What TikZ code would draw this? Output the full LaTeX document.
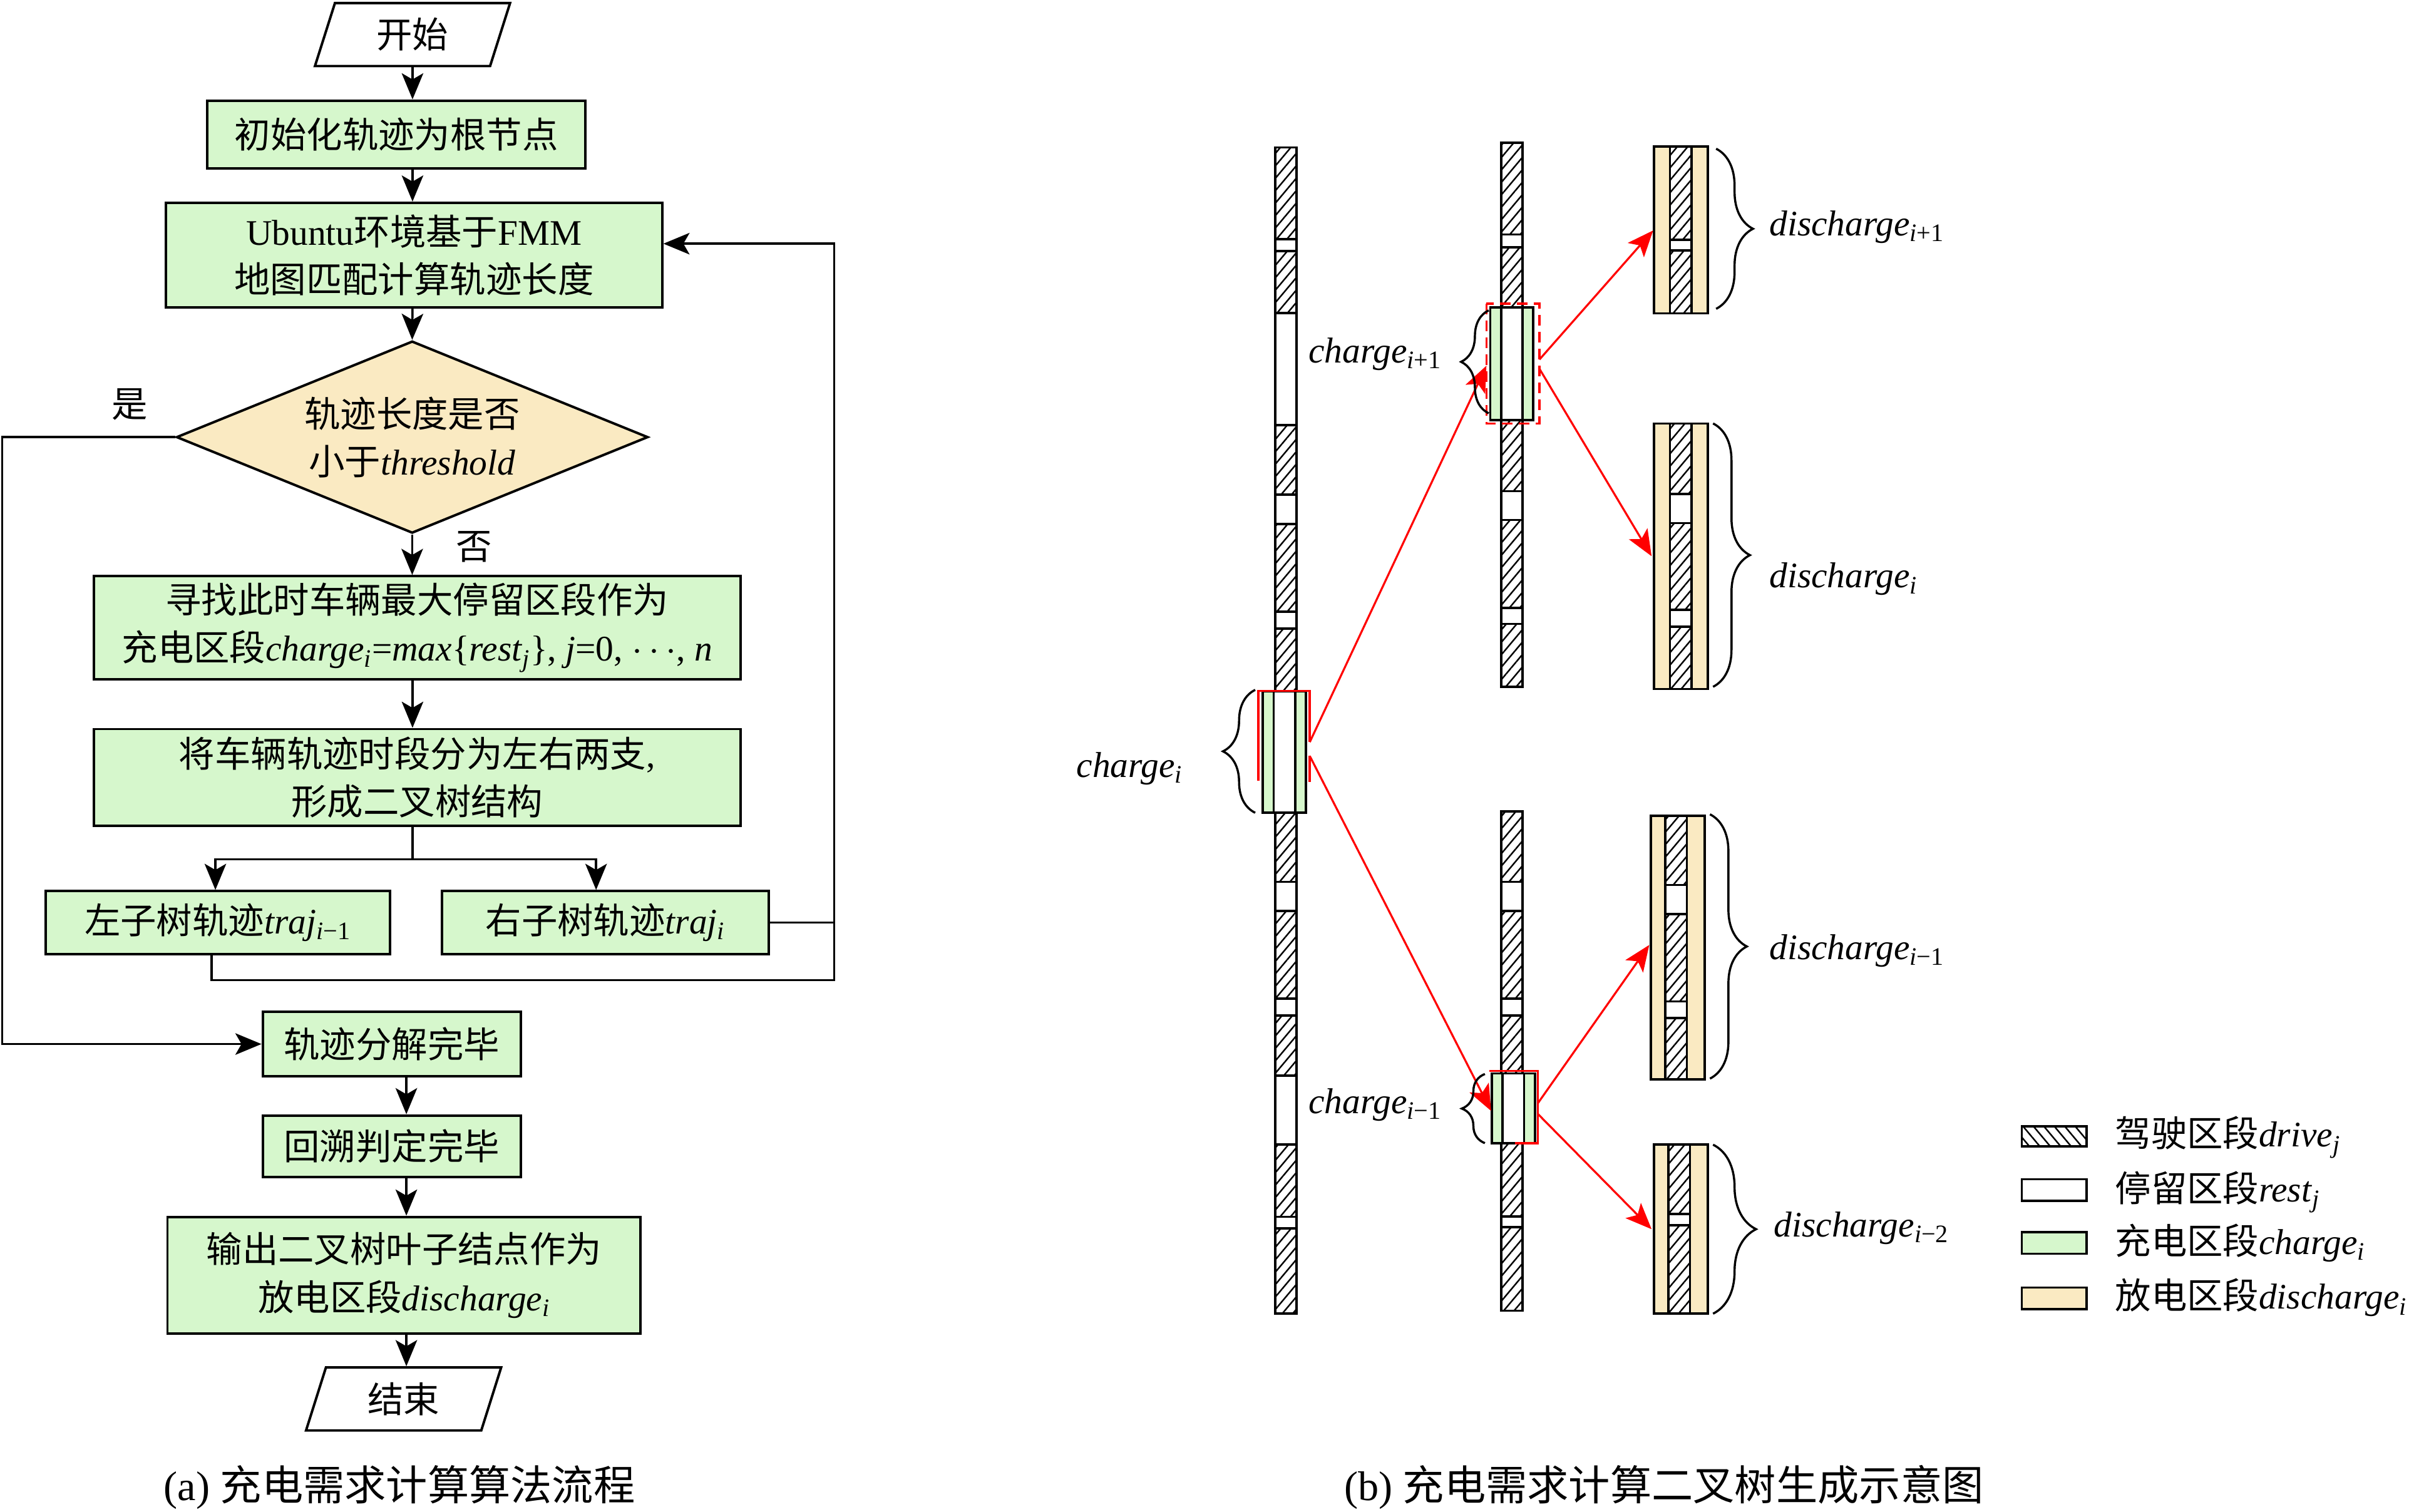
\documentclass[tikz,border=0pt]{standalone}
\usepackage{fontspec}
\setmainfont{Liberation Serif}
\newfontfamily\cjk{Noto Sans CJK SC}
\usetikzlibrary{arrows.meta,shapes.geometric,patterns.meta,decorations.pathreplacing}

\definecolor{gruen}{RGB}{214,247,204}
\definecolor{gelb}{RGB}{250,234,194}

\def\zh#1{{\cjk #1}}
\def\sx#1#2{\textit{#1}\textsubscript{#2}}
\def\fs{\fontsize{23.4}{31}\selectfont}

% Abschnitte einer Spur
\def\w{7}
\def\fahrt#1#2#3{\draw[drivebox] ({#1-\w},#2) rectangle ({#1+\w},#3);}
\def\halt#1#2#3{\draw[restbox] ({#1-\w},#2) rectangle ({#1+\w},#3);}
\def\laden#1#2#3{\draw[chargebox] ({#1-14},#2) rectangle ({#1+14},#3); \halt{#1}{#2}{#3}}
\def\entladen#1#2#3{\draw[dischbox] ({#1-17.5},#2) rectangle ({#1+17.5},#3);}

\tikzset{
	box/.style={draw,line width=1.6pt,fill=gruen,inner sep=0pt,align=center,font=\fs},
	io/.style={trapezium,trapezium left angle=59,trapezium right angle=121,
		trapezium stretches body,draw,line width=1.6pt,fill=white,
		minimum height=41,minimum width=127,inner sep=0pt,font=\fs},
	cond/.style={diamond,draw,line width=1.6pt,fill=gelb,aspect=2.45,
		minimum width=307,minimum height=125,inner sep=0pt,align=center,font=\fs},
	drivebox/.style={draw,line width=1.5pt,preaction={fill=white},
		pattern={Lines[angle=50,distance=5.2pt,line width=1pt]}},
	legdrive/.style={draw,line width=1.5pt,preaction={fill=white},
		pattern={Lines[angle=-50,distance=5.2pt,line width=1pt]}},
	restbox/.style={draw,line width=1.5pt,fill=white},
	chargebox/.style={draw,line width=1.5pt,fill=gruen},
	dischbox/.style={draw,line width=1.5pt,fill=gelb},
	brc/.style={decorate,decoration={brace,amplitude=#1},line width=1.4pt},
	pfeil/.style={-{Stealth[length=17pt,width=14pt,inset=4pt]}},
	rot/.style={red,line width=1.3pt,-{Stealth[length=17pt,width=14pt,inset=4pt]}},
	lbl/.style={anchor=base west,font=\fs,inner sep=0pt},
}

\begin{document}
\begin{tikzpicture}[x=1pt,y=-1pt,line width=1.4pt]
\useasboundingbox (0,0) rectangle (1568,984);

% Ablauf
\node[io] (start) at (268.5,22.5) {\zh{开始}};
\node[box,minimum width=246,minimum height=44] (init) at (258,87.5) {\zh{初始化轨迹为根节点}};
\node[box,minimum width=323,minimum height=68] (fmm) at (269.5,166) {Ubuntu\zh{环境基于}FMM\\\zh{地图匹配计算轨迹长度}};
\node[cond] (cond) at (268.3,284.5) {\zh{轨迹长度是否}\\\zh{小于}\textit{threshold}};
\node[box,minimum width=421,minimum height=67] (findc) at (271.5,408.5)
	{\zh{寻找此时车辆最大停留区段作为}\\\zh{充电区段}\sx{charge}{\textit{i}}=\textit{max}\{\sx{rest}{\textit{j}}\}, \textit{j}=0, $\cdots$, \textit{n}};
\node[box,minimum width=421,minimum height=63] (split) at (271.5,506) {\zh{将车辆轨迹时段分为左右两支},\\\zh{形成二叉树结构}};
\node[box,minimum width=224,minimum height=41] (ltree) at (141.7,600.5) {\zh{左子树轨迹}\sx{traj}{\textit{i}−1}};
\node[box,minimum width=213,minimum height=41] (rtree) at (394,600.5) {\zh{右子树轨迹}\sx{traj}{\textit{i}}};
\node[box,minimum width=168,minimum height=42] (done) at (255,679.5) {\zh{轨迹分解完毕}};
\node[box,minimum width=168,minimum height=40] (back) at (255,746) {\zh{回溯判定完毕}};
\node[box,minimum width=308,minimum height=76] (out) at (263,830) {\zh{输出二叉树叶子结点作为}\\\zh{放电区段}\sx{discharge}{\textit{i}}};
\node[io] (stop) at (262.7,910.5) {\zh{结束}};

\node[font=\fs,inner sep=0pt,anchor=west] (ja) at (72,263) {\zh{是}};
\node[font=\fs,inner sep=0pt,anchor=west] (nein) at (296,356) {\zh{否}};

\coordinate (ax) at (268.5,0);
\coordinate (bx) at (264.5,0);
\coordinate (yes) at (1.5,0);
\coordinate (rback) at (543,158.6);
\coordinate (lback) at (543,638);

\draw[pfeil] (start.south) -- (start.south |- init.north);
\draw[pfeil] (init.south -| ax) -- (fmm.north -| ax);
\draw[pfeil] (fmm.south -| ax) -- (cond.north);
\draw[pfeil] (cond.south) -- (cond.south |- findc.north);
\draw[pfeil] (findc.south -| ax) -- (split.north -| ax);
\draw (split.south -| ax) -- ++(0,21) coordinate (fork);
\draw[pfeil] (fork) -| ([xshift=-1.5pt]ltree.north);
\draw[pfeil] (fork) -| ([xshift=-6pt]rtree.north);
\draw[pfeil] (rtree.east) -| (rback) -- (rback -| fmm.east);
\draw ([xshift=-4pt]ltree.south) |- (lback) -- (lback |- rtree.east);
\draw[pfeil] (cond.west) -- (cond.west -| yes) |- (done.west);
\draw[pfeil] (done.south -| bx) -- (back.north -| bx);
\draw[pfeil] (back.south -| bx) -- (out.north -| bx);
\draw[pfeil] (out.south -| bx) -- (stop.north -| bx);

\node[font=\fontsize{27}{30}\selectfont] (capa) at (260,968) {(a) \zh{充电需求计算算法流程}};

% Spur 1
\fahrt{837}{96}{155.7}
\halt{837}{155.7}{163.5}
\fahrt{837}{163.5}{203.8}
\halt{837}{203.8}{276.6}
\fahrt{837}{276.6}{322}
\halt{837}{322}{341}
\fahrt{837}{341}{398}
\halt{837}{398}{409}
\fahrt{837}{409}{450}
\laden{836}{450}{529}
\fahrt{837}{529}{574}
\halt{837}{574}{593}
\fahrt{837}{593}{650}
\halt{837}{650}{661}
\fahrt{837}{661}{700}
\halt{837}{700}{745}
\fahrt{837}{745}{792}
\halt{837}{792}{799.5}
\fahrt{837}{799.5}{855}

% Spur 2 oben
\fahrt{984}{93}{152.6}
\halt{984}{152.6}{161}
\fahrt{984}{161}{200}
\laden{984}{200}{273.5}
\fahrt{984}{273.5}{319.7}
\halt{984}{319.7}{338.4}
\fahrt{984}{338.4}{395.6}
\halt{984}{395.6}{406}
\fahrt{984}{406}{447}

% Spur 2 unten
\fahrt{984}{528}{574}
\halt{984}{574}{593}
\fahrt{984}{593}{650}
\halt{984}{650}{661}
\fahrt{984}{661}{698.6}
\laden{985}{698.6}{744}
\fahrt{984}{744}{791.6}
\halt{984}{791.6}{798.7}
\fahrt{984}{798.7}{853}

% Blaetter
\entladen{1094}{95.4}{204}
\fahrt{1094}{95.4}{156}
\halt{1094}{156}{163}
\fahrt{1094}{163}{204}

\entladen{1094}{275.6}{448.4}
\fahrt{1094}{275.6}{321.6}
\halt{1094}{321.6}{340.5}
\fahrt{1094}{340.5}{397}
\halt{1094}{397}{408}
\fahrt{1094}{408}{448.4}

\entladen{1092}{531}{702.5}
\fahrt{1091}{531}{576}
\halt{1091}{576}{595}
\fahrt{1091}{595}{651.8}
\halt{1091}{651.8}{662.7}
\fahrt{1091}{662.7}{702.5}

\entladen{1094}{745}{855}
\fahrt{1093}{745}{790}
\halt{1093}{790}{797.5}
\fahrt{1093}{797.5}{855}

% Markierungen
\draw[red,line width=1.5pt] (819,508) -- (819,449.6) -- (852.5,449.6) -- (852.5,483);
\draw[red,line width=1.5pt] (852.5,492) -- (852.5,509);
\draw[red,line width=1.5pt,dash pattern=on 7pt off 4pt] (967.5,197.7) rectangle (1002,275.6);
\draw[red,line width=1.5pt] (969.5,697) -- (1001,697) -- (1001,744) -- (986,744);

\coordinate (c0a) at (852.5,483);
\coordinate (c0b) at (852.5,492);
\coordinate (c1) at (967.5,238);
\coordinate (c2) at (970.5,723);
\coordinate (c1a) at (1002,234);
\coordinate (c1b) at (1002,240);
\coordinate (c2a) at (1001,718);
\coordinate (c2b) at (1001,725);
\coordinate (d1) at (1076,150);
\coordinate (d2) at (1075,362);
\coordinate (d3) at (1073.5,615);
\coordinate (d4) at (1075,800);

\draw[rot] (c0a) -- (c1);
\draw[rot] (c0b) -- (c2);
\draw[rot] (c1a) -- (d1);
\draw[rot] (c1b) -- (d2);
\draw[rot] (c2a) -- (d3);
\draw[rot] (c2b) -- (d4);

% Klammern
\draw[brc=21pt] (817,529) -- (817,449);
\draw[brc=18pt] (969,269) -- (969,202);
\draw[brc=15pt] (966.5,744) -- (966.5,699);
\draw[brc=24pt] (1117,96.8) -- (1117,201);
\draw[brc=24pt] (1115,275.6) -- (1115,447);
\draw[brc=24pt] (1113,530) -- (1113,702);
\draw[brc=28pt] (1115,745) -- (1115,855);

\node[lbl] (lc0) at (700,506) {\sx{charge}{\textit{i}}};
\node[lbl] (lc1) at (851,236) {\sx{charge}{\textit{i}+1}};
\node[lbl] (lc2) at (851,724.6) {\sx{charge}{\textit{i}−1}};
\node[lbl] (ld1) at (1151,153.5) {\sx{discharge}{\textit{i}+1}};
\node[lbl] (ld2) at (1151,382.6) {\sx{discharge}{\textit{i}}};
\node[lbl] (ld3) at (1151,624.5) {\sx{discharge}{\textit{i}−1}};
\node[lbl] (ld4) at (1154,805) {\sx{discharge}{\textit{i}−2}};

% Legende
\draw[legdrive] (1316,733) rectangle (1358,746);
\draw[restbox] (1316,767.5) rectangle (1358,781.5);
\draw[chargebox] (1316,802) rectangle (1358,816);
\draw[dischbox] (1316,838) rectangle (1358,852);
\node[lbl] (leg1) at (1376,746.5) {\zh{驾驶区段}\sx{drive}{\textit{j}}};
\node[lbl] (leg2) at (1376,782) {\zh{停留区段}\sx{rest}{\textit{j}}};
\node[lbl] (leg3) at (1376,816.5) {\zh{充电区段}\sx{charge}{\textit{i}}};
\node[lbl] (leg4) at (1376,852) {\zh{放电区段}\sx{discharge}{\textit{i}}};

\node[font=\fontsize{27}{30}\selectfont] (capb) at (1083,968) {(b) \zh{充电需求计算二叉树生成示意图}};

\end{tikzpicture}
\end{document}
